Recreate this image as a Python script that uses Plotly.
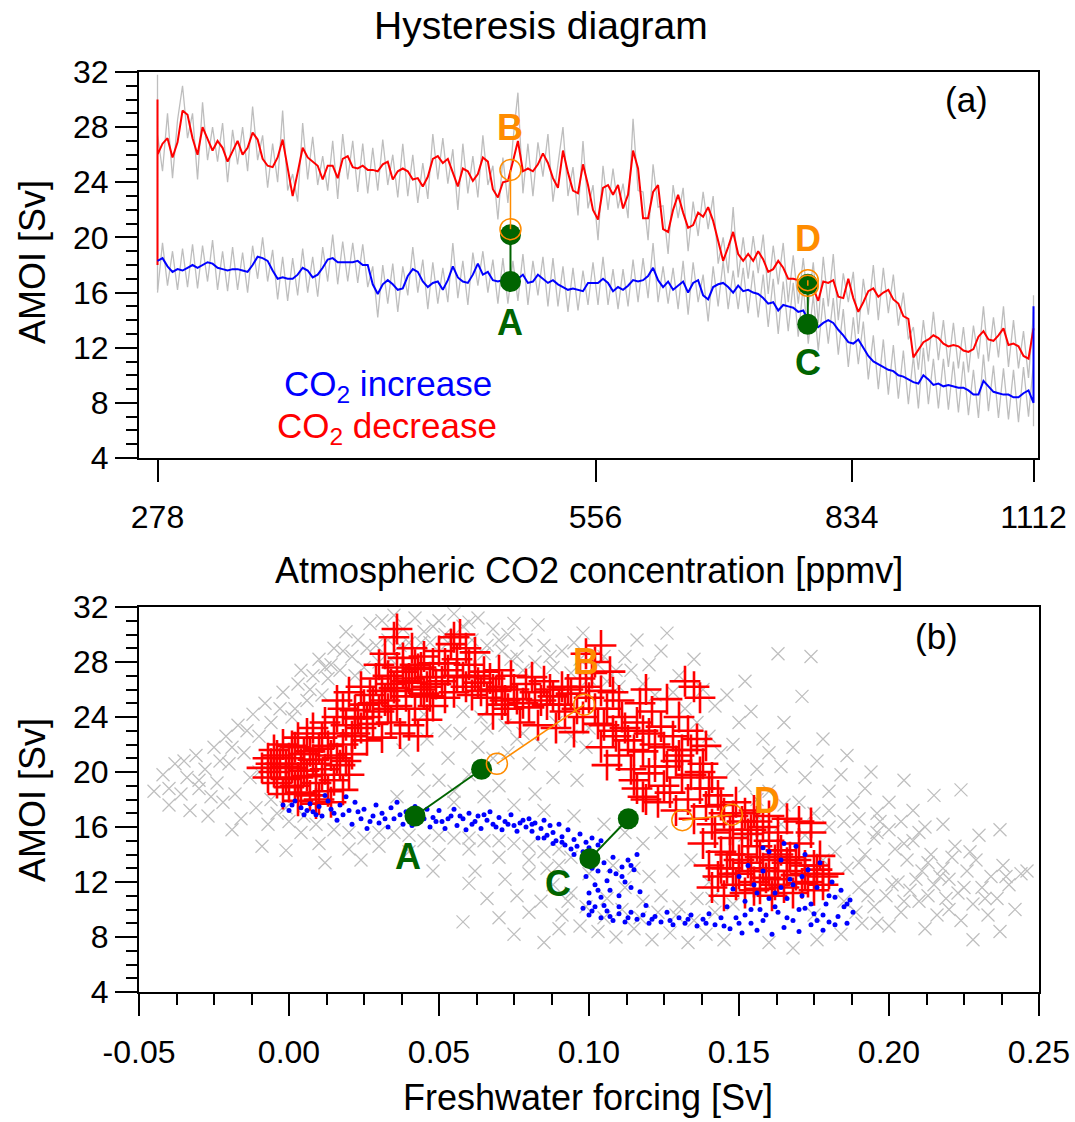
import numpy as np
import plotly.graph_objects as go

FONT = "Liberation Sans, Arial, Helvetica, sans-serif"
W, H = 1075, 1122
GRAY = "#BEBEBE"
GREEN = "#006400"
ORANGE = "#FF8C00"

# ---------------- panel (a): AMOI vs CO2 ----------------
co2_first, co2_last, n_years = 278, 1112, 176
co2 = co2_first * (co2_last / co2_first) ** (np.arange(n_years) / (n_years - 1))
co2_ticks = [278, 556, 834, 1112]

red_smooth = [
    26.0, 26.8, 27.2, 25.8, 26.9, 29.2, 28.9, 27.2, 26.0, 28.0,
    27.2, 26.3, 27.0, 26.5, 25.5, 26.2, 27.0, 26.0, 26.5, 27.6,
    27.1, 25.7, 25.2, 25.1, 25.8, 27.1, 25.0, 23.0, 24.7, 26.5,
    25.8, 25.5, 25.2, 24.2, 25.2, 25.2, 24.3, 25.7, 25.9, 25.1,
    25.0, 25.2, 24.9, 24.9, 24.8, 25.3, 25.5, 24.2, 24.8, 25.0,
    24.8, 24.2, 24.3, 23.7, 24.4, 25.7, 25.9, 25.4, 25.7, 24.7,
    23.7, 25.0, 24.8, 24.1, 24.6, 25.8, 25.5, 23.5, 22.9, 24.0,
    24.1, 25.5, 27.0, 24.8, 25.0, 24.8, 25.3, 26.1, 25.4, 24.3,
    23.6, 26.3, 24.7, 23.4, 23.2, 25.3, 23.8, 22.0, 21.3, 23.6,
    23.8, 23.1, 23.8, 22.1, 23.1, 26.3, 25.0, 21.4, 21.4, 23.3,
    23.8, 20.6, 20.4, 22.0, 23.1, 21.8, 20.7, 20.9, 21.8, 21.5,
    22.2, 21.2, 19.7, 18.3, 19.3, 20.4, 18.8, 18.3, 18.8, 18.3,
    19.0, 18.4, 17.5, 17.7, 18.3, 17.8, 17.0, 17.0, 16.9, 16.8,
    16.7, 16.3, 15.4, 16.8, 16.7, 16.9, 15.7, 15.6, 17.0, 15.6,
    14.6, 15.3, 16.1, 16.3, 15.7, 16.0, 16.2, 15.5, 15.2, 14.3,
    14.1, 11.3, 11.9, 12.4, 12.6, 12.9, 12.7, 12.3, 12.1, 12.2,
    12.1, 11.8, 11.7, 11.9, 12.8, 13.2, 12.6, 12.5, 12.9, 13.4,
    12.2, 12.3, 12.1, 11.4, 11.2, 13.4]
red_raw = [
    27.5, 24.8, 29.0, 24.3, 28.5, 31.0, 27.2, 29.0, 24.2, 29.8,
    25.6, 28.0, 25.5, 28.3, 24.0, 27.8, 25.3, 28.0, 24.8, 29.5,
    25.6, 27.4, 23.6, 26.8, 24.0, 29.2, 23.4, 24.6, 22.6, 28.3,
    24.2, 27.3, 23.8, 25.9, 23.4, 27.0, 22.8, 27.5, 24.2, 27.0,
    23.3, 26.8, 23.2, 26.5, 23.4, 27.1, 23.8, 26.0, 22.9, 26.8,
    23.0, 26.0, 22.5, 25.4, 22.8, 27.5, 24.2, 27.2, 23.9, 26.4,
    22.0, 26.8, 23.2, 25.9, 22.9, 27.4, 23.8, 25.2, 21.3, 25.8,
    22.5, 27.0, 30.5, 23.2, 26.8, 23.0, 26.9, 24.4, 27.5, 22.6,
    25.3, 28.0, 23.0, 25.1, 21.6, 27.0, 22.1, 23.8, 19.8, 25.2,
    22.0, 25.0, 22.1, 23.9, 21.4, 28.6, 23.4, 23.3, 19.8, 25.3,
    22.2, 22.3, 18.8, 23.8, 21.4, 23.6, 19.0, 22.6, 20.1, 23.3,
    20.6, 23.0, 18.1, 20.0, 17.4, 22.2, 17.1, 20.0, 17.0, 20.1,
    17.4, 20.2, 15.9, 19.4, 16.6, 19.6, 15.3, 18.7, 15.2, 18.5,
    15.0, 18.2, 13.8, 18.6, 15.0, 18.8, 14.0, 17.4, 15.3, 17.5,
    13.0, 17.0, 14.4, 18.0, 14.0, 17.8, 14.5, 17.3, 13.6, 16.0,
    12.6, 13.5, 10.4, 14.0, 11.0, 14.6, 11.1, 14.0, 10.6, 13.8,
    10.5, 13.5, 10.2, 13.6, 11.2, 15.0, 11.0, 14.2, 11.3, 15.0,
    10.6, 14.0, 10.5, 13.2, 9.8, 14.6]
blue_smooth = [
    18.3, 18.5, 17.9, 17.5, 17.7, 17.6, 17.8, 18.0, 17.8, 18.0,
    18.2, 18.1, 17.8, 17.7, 17.6, 17.7, 17.7, 17.6, 17.5, 18.0,
    18.6, 18.5, 18.3, 17.6, 17.0, 17.1, 17.0, 17.0, 17.3, 17.8,
    17.6, 17.1, 17.3, 17.8, 18.4, 18.5, 18.2, 18.2, 18.2, 18.2,
    18.3, 18.0, 18.0, 16.6, 15.9, 16.6, 16.9, 16.6, 16.2, 16.3,
    17.2, 17.7, 17.5, 16.8, 16.4, 16.7, 16.8, 16.2, 16.9, 17.9,
    17.1, 16.8, 16.7, 17.3, 18.1, 17.3, 17.5, 16.9, 16.8, 16.9,
    16.8, 16.8, 17.0, 17.3, 16.7, 16.8, 17.3, 17.0, 16.7, 16.9,
    16.6, 16.4, 16.2, 16.3, 16.2, 16.1, 16.7, 16.7, 16.7, 17.0,
    16.7, 16.1, 16.4, 16.2, 16.5, 16.9, 16.8, 16.9, 17.2, 17.8,
    16.9, 16.4, 16.8, 16.2, 16.5, 16.8, 16.0, 16.7, 16.9, 15.8,
    15.5, 16.4, 16.6, 16.7, 16.4, 16.0, 16.5, 16.1, 16.2, 16.0,
    15.9, 15.6, 15.2, 15.3, 14.7, 15.1, 15.0, 14.9, 14.6, 14.7,
    14.0, 13.6, 13.5, 13.8, 14.0, 13.8, 13.3, 12.9, 12.4, 12.3,
    12.6, 12.0, 11.4, 11.0, 10.8, 10.6, 10.4, 10.3, 10.0, 9.9,
    9.7, 9.5, 9.4, 10.0, 9.7, 9.3, 9.4, 9.2, 9.3, 9.2,
    9.1, 9.1, 8.9, 8.6, 8.6, 9.6, 9.2, 8.8, 8.7, 8.6,
    8.6, 8.4, 8.4, 8.7, 8.9, 8.0]
blue_raw = [
    16.0, 19.6, 16.5, 19.0, 16.2, 19.2, 16.4, 19.5, 16.3, 19.4,
    16.8, 19.8, 16.2, 19.0, 16.1, 19.3, 16.2, 18.9, 16.0, 19.4,
    17.0, 20.0, 16.8, 19.1, 15.5, 18.6, 15.4, 18.5, 15.8, 19.2,
    16.0, 18.6, 15.7, 19.3, 16.8, 20.2, 16.6, 19.7, 16.8, 19.6,
    16.7, 19.5, 16.4, 17.9, 14.2, 18.0, 15.2, 18.1, 14.6, 17.9,
    15.8, 19.3, 16.0, 18.4, 14.8, 18.2, 15.2, 17.8, 15.3, 19.6,
    15.6, 18.3, 15.1, 18.9, 16.5, 19.0, 16.0, 18.4, 15.2, 18.5,
    15.2, 18.3, 15.4, 18.8, 15.1, 18.3, 15.8, 18.6, 15.0, 18.5,
    15.0, 17.9, 14.6, 17.8, 14.7, 17.6, 15.1, 18.2, 15.1, 18.6,
    15.1, 17.7, 14.8, 17.7, 15.0, 18.4, 15.3, 18.5, 15.6, 19.6,
    15.3, 17.9, 15.2, 17.8, 14.8, 18.3, 14.4, 18.2, 15.3, 17.3,
    13.9, 17.9, 15.0, 18.3, 14.8, 17.6, 14.8, 17.8, 14.5, 17.6,
    14.2, 17.3, 13.5, 17.0, 13.0, 16.8, 13.2, 16.7, 12.8, 16.5,
    12.3, 15.8, 11.8, 15.6, 12.3, 15.6, 11.5, 14.8, 10.6, 14.2,
    10.8, 13.9, 9.7, 12.9, 9.0, 12.6, 8.6, 12.2, 8.3, 11.8,
    7.9, 11.4, 7.6, 12.0, 7.9, 11.2, 7.6, 11.2, 7.5, 11.0,
    7.3, 11.0, 7.1, 10.4, 6.9, 11.5, 7.4, 10.7, 6.9, 10.5,
    6.8, 10.4, 6.6, 10.6, 7.0, 10.9]
# jumps at the ends of the runs
red_start_jump = [18.0, 30.0]
red_raw_start_jump = [16.2, 31.8]
blue_end_jump = [15.0]
blue_raw_end_jump = [6.3, 15.8]

# states A-D
co2_AB, co2_CD = 486, 778
amoi_A = [16.8, 20.2]
amoi_B = [20.6, 24.9]
amoi_C = [13.7, 16.6]
amoi_D = [16.5, 16.9]
fw_A = [0.0420, 0.0642]
fw_B = [0.0693, 0.0984]
fw_C = [0.1003, 0.1131]
fw_D = [0.1311, 0.1476]

# ---------------- panel (b): AMOI vs freshwater forcing ----------------
gray_pts = [
    (-0.045, 18.6), (-0.042, 19.8), (-0.040, 17.6), (-0.038, 20.6), (-0.036, 18.4), (-0.034, 19.6),
    (-0.033, 17.2), (-0.031, 21.2), (-0.030, 18.8), (-0.028, 20.2), (-0.027, 16.8), (-0.025, 21.8),
    (-0.024, 19.2), (-0.022, 17.8), (-0.021, 22.6), (-0.020, 20.6), (-0.018, 18.4), (-0.017, 23.4),
    (-0.016, 16.6), (-0.015, 21.4), (-0.013, 19.6), (-0.012, 24.2), (-0.011, 17.4), (-0.010, 22.6),
    (-0.008, 25.0), (-0.007, 16.2), (-0.006, 23.6), (-0.004, 17.0), (-0.003, 24.6), (-0.002, 25.8),
    (0.000, 16.4), (0.001, 24.0), (0.003, 26.4), (0.005, 16.8), (0.006, 25.2), (0.008, 27.0),
    (0.009, 16.2), (-0.019, 15.8), (-0.009, 14.6), (0.012, 27.6),
    (0.010, 28.2), (0.013, 26.8), (0.015, 29.0), (0.017, 27.4), (0.019, 30.2), (0.021, 28.4),
    (0.023, 29.6), (0.025, 27.6), (0.027, 30.8), (0.029, 29.2), (0.031, 31.0), (0.033, 29.6),
    (0.035, 31.4), (0.038, 30.4), (0.040, 29.4), (0.042, 31.2), (0.045, 30.2), (0.047, 29.4),
    (0.050, 31.0), (0.052, 30.0), (0.055, 31.5), (0.058, 30.6), (0.061, 29.6), (0.063, 31.2),
    (0.066, 29.2), (0.068, 30.4), (0.071, 28.8), (0.073, 30.0), (0.076, 28.4), (0.079, 29.6),
    (0.082, 28.0), (0.085, 29.2), (0.088, 27.6), (0.091, 28.8), (0.094, 27.2), (0.097, 28.2),
    (0.100, 26.8), (0.103, 27.8), (0.106, 26.6), (0.109, 27.4), (0.075, 30.8), (0.083, 30.7),
    (0.098, 30.1), (0.126, 30.1), (0.116, 29.6), (0.112, 28.4), (0.120, 27.8), (0.124, 28.8),
    (0.130, 27.0), (0.135, 28.2),
    (0.138, 26.0), (0.142, 24.8), (0.146, 25.6), (0.150, 23.6), (0.154, 24.4), (0.158, 22.4),
    (0.163, 28.6), (0.174, 28.4), (0.171, 25.5), (0.165, 23.6), (0.160, 21.4), (0.164, 20.4),
    (0.168, 21.8), (0.172, 19.6), (0.176, 20.8), (0.180, 18.6), (0.184, 19.8), (0.188, 17.8),
    (0.192, 18.8), (0.196, 17.0), (0.200, 17.8), (0.204, 16.4), (0.208, 17.2), (0.212, 16.0),
    (0.148, 22.0), (0.156, 20.2), (0.152, 26.6), (0.178, 22.4), (0.186, 21.2), (0.194, 20.0),
    (0.205, 19.4), (0.215, 18.3), (0.224, 18.7), (0.237, 15.8),
    (0.038, 21.6), (0.043, 20.2), (0.046, 22.4), (0.050, 19.4), (0.053, 21.0), (0.057, 22.8),
    (0.060, 19.8), (0.063, 21.8), (0.066, 23.2), (0.070, 19.0), (0.073, 21.4), (0.076, 22.4),
    (0.080, 20.6), (0.084, 22.0), (0.088, 19.6), (0.092, 21.2), (0.096, 19.4), (0.099, 21.8),
    (0.055, 18.6), (0.082, 18.4),
    (0.004, 15.6), (0.010, 14.8), (0.015, 15.8), (0.020, 14.4), (0.025, 15.2), (0.030, 14.6),
    (0.035, 15.6), (0.040, 14.2), (0.045, 15.0), (0.050, 14.0), (0.055, 15.2), (0.060, 14.4),
    (0.065, 15.0), (0.070, 13.8), (0.075, 14.8), (0.080, 13.6), (0.085, 14.2), (0.090, 13.2),
    (0.094, 13.8), (0.036, 18.2), (0.045, 18.6), (0.055, 17.8), (0.065, 18.2), (0.075, 17.6),
    (0.085, 17.2), (0.095, 16.8), (0.105, 16.2), (0.112, 15.6), (0.118, 14.8), (0.124, 15.6),
    (0.024, 13.6), (0.048, 12.8), (0.012, 13.4), (0.062, 12.8), (-0.001, 14.3),
    (0.072, 12.2), (0.076, 11.0), (0.080, 12.6), (0.084, 10.6), (0.088, 11.8), (0.091, 9.6),
    (0.094, 11.2), (0.097, 8.8), (0.100, 12.6), (0.103, 8.4), (0.106, 10.8), (0.109, 8.0),
    (0.112, 11.6), (0.115, 8.6), (0.118, 10.6), (0.121, 7.8), (0.124, 11.0), (0.127, 8.3),
    (0.130, 10.2), (0.133, 7.6), (0.136, 10.8), (0.139, 8.2), (0.142, 9.8), (0.145, 7.8),
    (0.148, 10.4), (0.086, 13.0), (0.120, 12.4), (0.128, 12.8), (0.134, 13.6), (0.140, 12.0),
    (0.060, 11.9), (0.066, 10.8), (0.058, 9.1), (0.070, 9.4), (0.075, 8.2), (0.080, 9.8),
    (0.085, 7.6), (0.090, 8.6),
    (0.152, 15.4), (0.156, 16.8), (0.160, 7.6), (0.164, 16.2), (0.168, 7.2), (0.172, 15.4),
    (0.176, 7.8), (0.180, 16.0), (0.182, 14.2), (0.184, 8.2), (0.186, 13.0), (0.188, 15.2),
    (0.190, 11.6), (0.191, 9.0), (0.192, 14.0), (0.194, 12.4), (0.195, 10.2), (0.196, 15.6),
    (0.198, 13.2), (0.199, 11.0), (0.200, 8.8), (0.202, 14.4), (0.203, 12.0), (0.204, 9.8),
    (0.206, 13.6), (0.207, 11.4), (0.208, 15.0), (0.210, 10.6), (0.211, 12.8), (0.212, 8.6),
    (0.214, 14.0), (0.215, 11.8), (0.216, 9.6), (0.218, 13.0), (0.219, 10.8), (0.220, 12.2),
    (0.222, 14.6), (0.223, 11.2), (0.224, 9.2), (0.226, 12.8), (0.228, 10.4), (0.229, 13.6),
    (0.231, 11.6), (0.233, 9.6), (0.234, 12.4), (0.236, 10.8), (0.238, 13.2), (0.240, 11.8),
    (0.242, 10.0), (0.244, 12.6), (0.246, 12.8), (0.237, 8.4), (0.228, 7.8), (0.218, 16.2),
    (0.230, 15.4), (0.190, 13.4), (0.197, 16.4), (0.185, 10.6), (0.175, 9.6), (0.178, 13.6),
    (0.255, 12.6),
    (-0.040, 18.8), (-0.035, 20.8), (-0.030, 19.4), (-0.026, 18.2), (-0.023, 20.8), (-0.019, 21.8),
    (-0.014, 23.0), (-0.010, 20.0), (-0.006, 18.0), (-0.001, 17.4), (0.002, 24.6), (0.004, 27.4),
    (0.007, 26.0), (0.011, 25.6), (0.014, 27.8), (0.018, 28.8), (0.022, 27.0), (0.026, 29.0),
    (0.030, 28.0), (0.034, 28.2), (0.037, 29.2), (0.044, 29.4), (0.048, 30.6), (0.053, 29.4),
    (0.060, 30.9), (0.065, 28.6), (0.070, 29.6), (0.074, 28.2), (0.078, 27.4), (0.087, 28.4),
    (0.095, 29.4), (0.105, 28.4), (0.110, 26.2), (0.114, 27.4), (0.118, 26.4), (0.122, 25.6),
    (0.128, 25.8), (0.132, 24.6), (0.136, 23.6), (0.140, 22.6), (0.144, 21.4), (0.148, 20.2),
    (0.152, 19.0), (0.156, 18.0), (0.160, 18.6), (0.165, 17.6), (0.170, 17.8), (0.175, 17.0),
    (0.180, 17.2), (0.185, 16.4), (0.190, 16.6), (0.195, 15.2), (0.200, 15.8), (0.205, 14.8),
    (0.210, 15.6), (0.213, 13.4), (0.217, 12.4), (0.221, 13.8), (0.225, 11.6), (0.209, 12.2),
    (0.201, 11.8), (0.193, 11.0), (0.189, 9.8), (0.196, 9.0), (0.205, 10.6), (0.213, 11.0),
    (0.220, 10.0), (0.232, 10.8), (0.239, 12.4), (0.227, 14.2),
    (0.020, 15.6), (0.030, 15.6), (0.040, 15.4), (0.050, 15.4), (0.060, 15.2), (0.070, 15.0),
    (0.080, 14.6), (0.090, 14.4), (0.100, 13.8), (0.108, 13.2), (0.115, 13.0), (0.093, 10.6),
    (0.099, 10.2), (0.105, 9.4), (0.111, 10.0), (0.117, 9.4), (0.123, 9.8), (0.129, 9.6),
    (0.135, 9.2), (0.141, 10.8), (0.058, 24.4), (0.064, 24.0), (0.072, 23.4), (0.078, 22.8),
    (0.089, 23.6), (0.052, 23.0), (0.045, 24.2), (0.100, 23.2), (0.094, 22.6), (0.068, 21.0)]

red_pts = [
    (-0.009, 20.3), (-0.007, 19.6), (-0.007, 21.0), (-0.005, 20.0), (-0.005, 21.6), (-0.004, 19.2),
    (-0.003, 20.6), (-0.002, 22.0), (-0.001, 19.5), (0.000, 21.0), (0.000, 18.9), (0.001, 20.3),
    (0.002, 21.8), (0.002, 19.0), (0.003, 22.5), (0.004, 20.6), (0.004, 18.5), (0.005, 21.3),
    (0.006, 19.7), (0.006, 22.8), (0.007, 18.3), (0.008, 20.9), (0.008, 23.2), (0.009, 19.2),
    (0.010, 21.7), (0.010, 18.0), (0.011, 22.5), (0.012, 20.2), (0.012, 23.6), (0.013, 18.6),
    (0.014, 21.2), (0.015, 19.4), (0.015, 22.8), (0.016, 24.0), (0.017, 20.5), (0.018, 18.7),
    (0.018, 22.0), (0.019, 23.4), (0.020, 19.8), (0.021, 21.3), (0.003, 17.9), (0.009, 17.7),
    (0.014, 17.8), (-0.002, 18.4), (0.022, 24.5),
    (0.016, 25.2), (0.018, 24.6), (0.020, 25.8), (0.022, 22.8), (0.023, 23.9), (0.024, 26.2),
    (0.025, 24.9), (0.026, 22.3), (0.027, 25.6), (0.028, 23.5), (0.029, 26.8), (0.030, 24.4),
    (0.031, 22.5), (0.032, 25.2), (0.033, 27.0), (0.034, 23.6), (0.035, 26.1), (0.036, 24.8),
    (0.037, 22.8), (0.038, 27.3), (0.039, 25.5), (0.040, 23.4), (0.041, 26.5), (0.042, 24.6),
    (0.043, 22.6), (0.044, 27.6), (0.045, 25.7), (0.046, 23.8), (0.047, 26.9), (0.048, 24.8),
    (0.030, 27.8), (0.032, 28.6), (0.034, 26.4), (0.035, 29.8), (0.036, 27.6), (0.038, 28.3),
    (0.040, 26.8), (0.041, 29.0), (0.043, 27.5), (0.045, 28.4), (0.046, 26.2), (0.048, 27.9),
    (0.050, 28.8), (0.051, 26.6), (0.053, 27.4), (0.054, 29.3), (0.055, 25.8), (0.056, 28.2),
    (0.057, 30.0), (0.058, 26.9), (0.060, 27.8), (0.061, 25.6), (0.062, 28.7), (0.063, 26.5),
    (0.065, 27.3), (0.066, 25.4), (0.067, 26.8), (0.069, 25.9), (0.070, 27.4), (0.072, 25.2),
    (0.036, 30.4), (0.055, 29.8), (0.059, 29.0), (0.052, 25.4), (0.047, 25.5),
    (0.068, 24.2), (0.071, 26.2), (0.073, 24.6), (0.074, 27.0), (0.076, 25.3), (0.077, 23.6),
    (0.079, 26.4), (0.080, 24.7), (0.082, 25.8), (0.083, 23.4), (0.085, 26.6), (0.086, 24.9),
    (0.088, 25.5), (0.089, 23.2), (0.091, 26.2), (0.092, 24.4), (0.094, 25.7), (0.095, 22.9),
    (0.097, 26.8), (0.098, 24.0), (0.100, 25.4), (0.101, 27.2), (0.103, 23.5), (0.104, 25.9),
    (0.106, 24.6), (0.107, 27.3), (0.109, 22.6), (0.110, 25.2), (0.099, 28.6), (0.102, 28.0),
    (0.104, 29.2),
    (0.104, 21.8), (0.106, 20.5), (0.108, 23.0), (0.110, 21.2), (0.111, 24.0), (0.113, 22.3),
    (0.114, 20.2), (0.116, 23.6), (0.117, 25.0), (0.118, 21.5), (0.120, 22.8), (0.121, 24.4),
    (0.122, 20.4), (0.124, 23.3), (0.125, 21.8), (0.126, 25.3), (0.128, 22.6), (0.129, 20.8),
    (0.130, 24.0), (0.131, 21.6), (0.133, 23.0), (0.134, 19.8), (0.135, 26.2), (0.136, 22.4),
    (0.138, 20.6), (0.132, 26.6), (0.137, 25.4), (0.139, 21.9), (0.141, 19.6), (0.119, 26.0),
    (0.119, 18.0), (0.115, 19.4), (0.118, 18.2), (0.120, 19.9), (0.123, 17.8), (0.125, 19.0),
    (0.127, 18.5), (0.129, 17.2), (0.131, 19.6), (0.133, 18.0), (0.135, 16.6), (0.137, 18.8),
    (0.139, 17.5), (0.141, 16.2), (0.143, 18.3), (0.145, 17.0), (0.147, 15.8), (0.149, 17.8),
    (0.151, 16.4), (0.153, 15.5), (0.155, 17.2), (0.158, 16.0), (0.160, 16.8), (0.163, 15.6),
    (0.166, 16.6), (0.170, 16.4), (0.174, 16.3), (0.116, 18.8),
    (0.138, 14.8), (0.140, 13.2), (0.141, 11.6), (0.143, 12.4), (0.144, 14.2), (0.145, 11.0),
    (0.146, 13.0), (0.148, 15.2), (0.149, 11.8), (0.150, 12.6), (0.151, 14.0), (0.152, 11.2),
    (0.153, 13.4), (0.155, 12.0), (0.156, 14.6), (0.157, 11.5), (0.158, 13.0), (0.159, 12.3),
    (0.160, 15.0), (0.161, 11.0), (0.162, 13.6), (0.163, 12.2), (0.164, 14.3), (0.165, 11.6),
    (0.166, 12.8), (0.167, 13.8), (0.168, 11.2), (0.169, 12.5), (0.170, 14.8), (0.171, 11.9),
    (0.172, 13.2), (0.173, 12.0), (0.174, 15.6), (0.175, 11.4), (0.176, 12.9), (0.177, 13.9),
    (0.178, 11.8), (0.180, 12.6), (0.142, 15.6), (0.154, 15.8),
    (-0.006, 20.6), (-0.004, 21.2), (-0.001, 20.4), (0.001, 21.9), (0.003, 19.6), (0.005, 20.1),
    (0.007, 21.5), (0.009, 20.6), (0.011, 19.8), (0.013, 21.9), (0.016, 21.0), (0.019, 20.8),
    (0.021, 22.6), (0.024, 23.2), (0.026, 24.0), (0.028, 25.0), (0.031, 25.9), (0.033, 24.6),
    (0.036, 25.9), (0.039, 26.6), (0.042, 27.8), (0.044, 26.0), (0.049, 26.4), (0.052, 27.9),
    (0.056, 27.0), (0.059, 26.2), (0.062, 27.0), (0.064, 25.9), (0.068, 26.0), (0.071, 24.9),
    (0.075, 26.0), (0.078, 25.0), (0.081, 26.9), (0.084, 25.2), (0.087, 26.0), (0.090, 24.9),
    (0.093, 26.0), (0.096, 24.6), (0.099, 26.2), (0.102, 24.6), (0.105, 23.4), (0.108, 25.8),
    (0.112, 23.2), (0.115, 21.6), (0.118, 23.0), (0.122, 22.0), (0.126, 20.4), (0.130, 21.2),
    (0.134, 21.6), (0.137, 20.0), (0.140, 18.8), (0.144, 17.6), (0.148, 16.8), (0.152, 17.0),
    (0.156, 16.4), (0.147, 14.0), (0.150, 13.6), (0.154, 12.8), (0.157, 13.8), (0.160, 12.8),
    (0.163, 14.0), (0.166, 13.4), (0.169, 13.6), (0.172, 12.6), (0.175, 13.2), (0.178, 12.4),
    (0.162, 11.8), (0.155, 11.4), (0.148, 12.6), (0.144, 13.0)]

blue_pts = [
    (-0.002, 17.6), (0.000, 17.2), (0.002, 17.9), (0.004, 17.4), (0.005, 16.9), (0.007, 17.7),
    (0.008, 17.1), (0.010, 17.5), (0.011, 16.8), (0.013, 17.9), (0.014, 17.3), (0.016, 16.5),
    (0.017, 17.6), (0.018, 16.9), (0.020, 17.2), (0.021, 16.2), (0.022, 17.8), (0.024, 16.6),
    (0.025, 17.3), (0.026, 15.9), (0.028, 16.8), (0.029, 17.6), (0.030, 16.3), (0.031, 17.0),
    (0.033, 16.0), (0.019, 18.2), (0.012, 18.3),
    (0.034, 17.4), (0.035, 16.6), (0.036, 17.8), (0.038, 16.2), (0.039, 17.1), (0.040, 16.7),
    (0.042, 17.5), (0.043, 16.3), (0.044, 16.9), (0.046, 17.3), (0.047, 16.0), (0.048, 16.7),
    (0.050, 17.2), (0.051, 16.4), (0.052, 15.9), (0.054, 16.8), (0.055, 17.3), (0.056, 16.1),
    (0.058, 16.6), (0.059, 15.8), (0.060, 17.0), (0.062, 16.4), (0.063, 16.8), (0.064, 15.9),
    (0.066, 16.5), (0.067, 17.1), (0.068, 16.2), (0.070, 16.7), (0.071, 15.8), (0.072, 16.4),
    (0.074, 16.9), (0.075, 16.1), (0.076, 15.7), (0.078, 16.5), (0.079, 16.0),
    (0.080, 16.6), (0.081, 15.7), (0.082, 16.3), (0.084, 15.9), (0.085, 16.5), (0.086, 15.4),
    (0.087, 16.1), (0.088, 15.6), (0.089, 15.0), (0.090, 16.2), (0.091, 15.3), (0.092, 14.7),
    (0.093, 15.8), (0.094, 14.4), (0.095, 15.1), (0.096, 14.6), (0.097, 15.5), (0.098, 14.2),
    (0.099, 14.9), (0.100, 14.5), (0.101, 15.2), (0.102, 14.0), (0.103, 14.7), (0.104, 15.0),
    (0.083, 15.2),
    (0.098, 13.6), (0.099, 12.4), (0.100, 11.2), (0.101, 13.0), (0.102, 11.8), (0.103, 12.8),
    (0.104, 10.9), (0.105, 13.4), (0.106, 12.1), (0.107, 11.4), (0.108, 13.8), (0.109, 12.6),
    (0.110, 11.0), (0.111, 13.1), (0.112, 12.0), (0.113, 13.6), (0.114, 11.6), (0.115, 12.9),
    (0.116, 14.0), (0.117, 11.3), (0.100, 10.5), (0.105, 10.3), (0.110, 10.2),
    (0.098, 10.1), (0.100, 9.6), (0.102, 10.2), (0.104, 9.4), (0.106, 9.9), (0.108, 9.2),
    (0.110, 9.7), (0.112, 9.1), (0.114, 9.8), (0.116, 9.3), (0.118, 9.6), (0.120, 9.0),
    (0.122, 9.5), (0.124, 9.1), (0.126, 9.8), (0.128, 8.9), (0.130, 9.4), (0.132, 9.0),
    (0.134, 9.6), (0.136, 8.8), (0.138, 9.3), (0.140, 9.7), (0.142, 8.9), (0.144, 9.4),
    (0.119, 10.3),
    (0.146, 10.2), (0.147, 8.6), (0.148, 11.5), (0.149, 9.4), (0.150, 12.4), (0.151, 8.3),
    (0.152, 10.6), (0.153, 13.2), (0.154, 9.0), (0.155, 11.8), (0.156, 8.5), (0.157, 10.0),
    (0.158, 12.8), (0.159, 9.6), (0.160, 14.2), (0.161, 8.2), (0.162, 11.2), (0.163, 9.8),
    (0.164, 13.6), (0.165, 8.7), (0.166, 10.8), (0.167, 12.2), (0.168, 9.2), (0.169, 14.6),
    (0.170, 8.4), (0.171, 11.0), (0.172, 10.1), (0.173, 12.9), (0.174, 8.9), (0.175, 9.7),
    (0.176, 11.6), (0.177, 13.4), (0.178, 8.5), (0.179, 10.4), (0.180, 9.1), (0.181, 12.0),
    (0.182, 10.9), (0.183, 9.5), (0.184, 11.4), (0.185, 10.2), (0.186, 9.0), (0.187, 10.7),
    (0.188, 9.8), (0.158, 14.5), (0.165, 14.8), (0.172, 14.0), (0.152, 9.6), (0.160, 10.8),
    (0.168, 11.8), (0.176, 9.2),
    (0.001, 17.6), (0.006, 17.2), (0.009, 16.9), (0.015, 17.0), (0.023, 17.1), (0.027, 16.4),
    (0.032, 16.6), (0.037, 16.9), (0.041, 16.1), (0.045, 16.6), (0.049, 16.4), (0.053, 16.6),
    (0.057, 16.8), (0.061, 16.2), (0.065, 16.9), (0.069, 16.0), (0.073, 16.2), (0.077, 16.3),
    (0.081, 16.2), (0.085, 15.2), (0.088, 14.8), (0.091, 14.9), (0.095, 14.0), (0.100, 13.2),
    (0.103, 11.4), (0.107, 12.8), (0.111, 12.4), (0.114, 13.2), (0.101, 9.9), (0.107, 9.5),
    (0.113, 9.4), (0.121, 9.3), (0.127, 9.2), (0.133, 9.3), (0.139, 9.0), (0.145, 8.8),
    (0.150, 9.0), (0.154, 10.0), (0.158, 9.2), (0.162, 10.2), (0.166, 9.4), (0.170, 10.0),
    (0.174, 10.4), (0.178, 9.6), (0.182, 8.9), (0.186, 10.4), (0.156, 11.2), (0.164, 11.6),
    (0.171, 12.4), (0.180, 11.0)]

fw_ticks = [-0.05, 0.00, 0.05, 0.10, 0.15, 0.20, 0.25]
fw_ticktext = ["-0.05", "0.00", "0.05", "0.10", "0.15", "0.20", "0.25"]
amoi_ticks = [4, 8, 12, 16, 20, 24, 28, 32]

# ---------------- figure ----------------
fig = go.Figure()

# panel (a)
fig.add_trace(go.Scatter(x=[co2_first, co2_first] + list(co2), y=red_raw_start_jump + red_raw,
                         mode="lines", line=dict(color=GRAY, width=1.3), xaxis="x", yaxis="y"))
fig.add_trace(go.Scatter(x=list(co2) + [co2_last, co2_last], y=blue_raw + blue_raw_end_jump,
                         mode="lines", line=dict(color=GRAY, width=1.3), xaxis="x", yaxis="y"))
fig.add_trace(go.Scatter(x=[co2_first, co2_first] + list(co2), y=red_start_jump + red_smooth,
                         mode="lines", line=dict(color="#FF0000", width=2), xaxis="x", yaxis="y"))
fig.add_trace(go.Scatter(x=list(co2) + [co2_last], y=blue_smooth + blue_end_jump,
                         mode="lines", line=dict(color="#0000FF", width=2), xaxis="x", yaxis="y"))


def filled(x, y, xa, ya):
    return go.Scatter(x=x, y=y, mode="lines+markers", xaxis=xa, yaxis=ya,
                      line=dict(color=GREEN, width=2),
                      marker=dict(symbol="circle", size=21, color=GREEN))


def hollow(x, y, xa, ya):
    return go.Scatter(x=x, y=y, mode="lines+markers", xaxis=xa, yaxis=ya,
                      line=dict(color=ORANGE, width=1.5),
                      marker=dict(symbol="circle-open", size=21, color=ORANGE,
                                  line=dict(width=1.5, color=ORANGE)))


fig.add_trace(filled([co2_AB, co2_AB], amoi_A, "x", "y"))
fig.add_trace(hollow([co2_AB, co2_AB], amoi_B, "x", "y"))
fig.add_trace(filled([co2_CD, co2_CD], amoi_C, "x", "y"))
fig.add_trace(hollow([co2_CD, co2_CD], amoi_D, "x", "y"))

# panel (b)
fig.add_trace(go.Scatter(x=[p[0] for p in gray_pts], y=[p[1] for p in gray_pts], mode="markers",
                         xaxis="x2", yaxis="y2",
                         marker=dict(symbol="x-thin", size=13, color=GRAY,
                                     line=dict(color=GRAY, width=1.2))))
fig.add_trace(go.Scatter(x=[p[0] for p in red_pts], y=[p[1] for p in red_pts], mode="markers",
                         xaxis="x2", yaxis="y2",
                         marker=dict(symbol="cross-thin", size=22, color="#FF0000",
                                     line=dict(color="#FF0000", width=2.6))))
fig.add_trace(go.Scatter(x=[p[0] for p in blue_pts], y=[p[1] for p in blue_pts], mode="markers",
                         xaxis="x2", yaxis="y2",
                         marker=dict(symbol="circle", size=5, color="#0000FF")))
fig.add_trace(filled(fw_A, amoi_A, "x2", "y2"))
fig.add_trace(hollow(fw_B, amoi_B, "x2", "y2"))
fig.add_trace(filled(fw_C, amoi_C, "x2", "y2"))
fig.add_trace(hollow(fw_D, amoi_D, "x2", "y2"))

TICKFONT = dict(family=FONT, size=32, color="black")
common_axis = dict(showline=True, linewidth=2, linecolor="black", mirror=True,
                   ticks="outside", ticklen=22, tickwidth=2, tickcolor="black",
                   showgrid=False, zeroline=False, tickfont=TICKFONT, automargin=False)
yminor = dict(ticks="outside", ticklen=11, tickwidth=2, tickcolor="black", dtick=1, tick0=0)


def px(x):
    return x / W


def py(y):
    return 1 - y / H


fig.update_layout(
    width=W, height=H, margin=dict(l=0, r=0, t=0, b=0, autoexpand=False),
    paper_bgcolor="white", plot_bgcolor="white", showlegend=False,
    font=dict(family=FONT, color="black"),
    xaxis=dict(common_axis, domain=[px(139), px(1038)], anchor="y", type="log",
               range=[2.43133, 3.04919], tickmode="array", tickvals=co2_ticks,
               ticktext=[str(t) for t in co2_ticks], ticklabelstandoff=8),
    yaxis=dict(common_axis, domain=[py(458), py(72)], anchor="x", range=[4, 32],
               tickmode="array", tickvals=amoi_ticks, minor=yminor),
    xaxis2=dict(common_axis, domain=[px(139), px(1039)], anchor="y2", range=[-0.05, 0.25],
                tickmode="array", tickvals=fw_ticks, ticktext=fw_ticktext, ticklabelstandoff=9,
                minor=dict(ticks="outside", ticklen=11, tickwidth=2, tickcolor="black",
                           tickmode="array", tickvals=list(np.arange(-0.05, 0.2501, 0.0125)))),
    yaxis2=dict(common_axis, domain=[py(992), py(607)], anchor="x2", range=[4, 32],
                tickmode="array", tickvals=amoi_ticks, minor=yminor),
)


def note(text, x, y, size=36, color="black", angle=0, bold=False):
    if bold:
        text = "<b>" + text + "</b>"
    fig.add_annotation(text=text, x=px(x), y=py(y), xref="paper", yref="paper",
                       xanchor="center", yanchor="middle", showarrow=False, textangle=angle,
                       font=dict(family=FONT, size=size, color=color))


note("Hysteresis diagram", 541, 25, size=39)
note("AMOI [Sv]", 32, 262, angle=-90)
note("AMOI [Sv]", 32, 800, angle=-90)
note("Atmospheric CO2 concentration [ppmv]", 589, 570)
note("Freshwater forcing [Sv]", 588, 1097)
note("(a)", 966, 100, size=35)
note("(b)", 936, 636, size=35)
note("CO<sub>2</sub> increase", 388, 386, size=35, color="#0000FF")
note("CO<sub>2</sub> decrease", 387, 428, size=35, color="#FF0000")
# state labels, panel (a)
note("A", 510, 322, color=GREEN, bold=True)
note("B", 510, 128, color=ORANGE, bold=True)
note("C", 808, 362, color=GREEN, bold=True)
note("D", 808, 238, color=ORANGE, bold=True)
# state labels, panel (b)
note("A", 408, 856, color=GREEN, bold=True)
note("B", 586, 661, color=ORANGE, bold=True)
note("C", 558, 883, color=GREEN, bold=True)
note("D", 767, 800, color=ORANGE, bold=True)

fig.write_html("out.html")
